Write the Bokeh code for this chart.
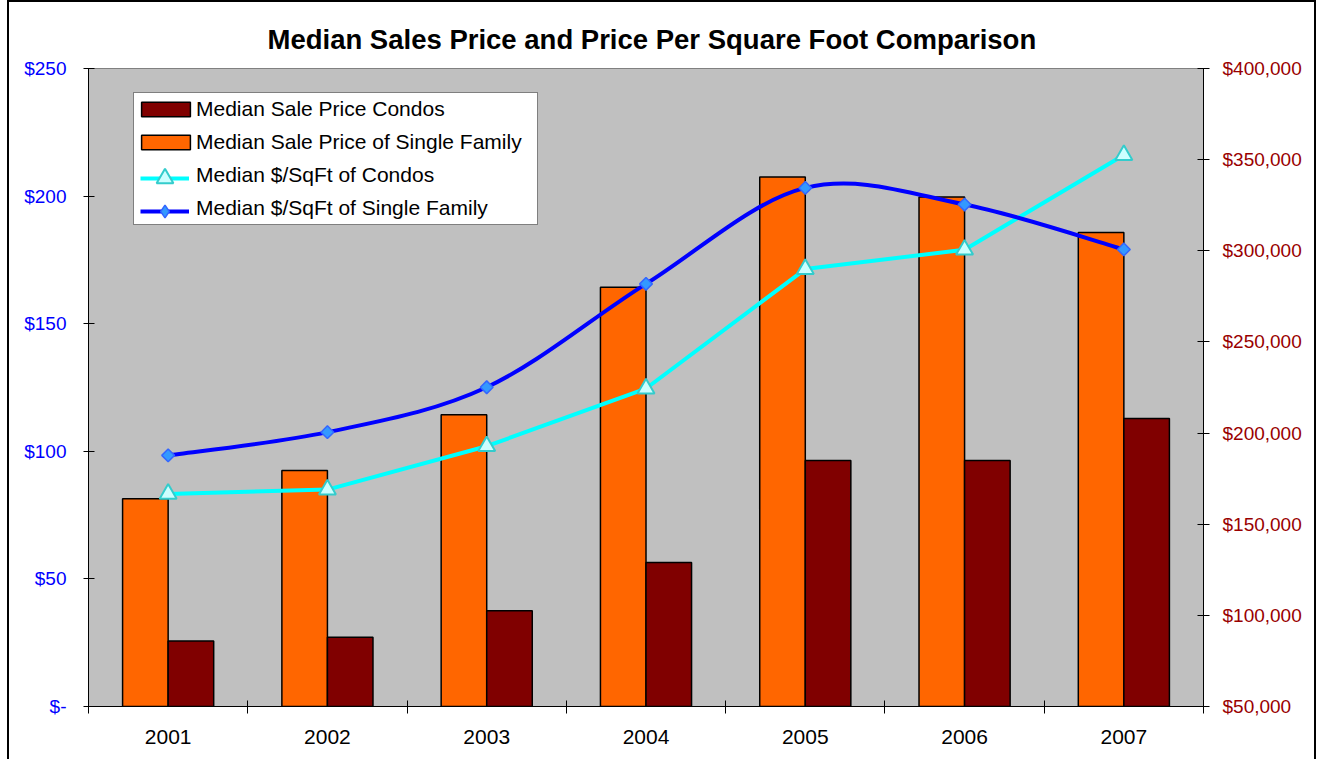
from bokeh.plotting import figure
from bokeh.models import (Range1d, LinearAxis, FixedTicker, NumeralTickFormatter,
                          Legend, LegendItem, ColumnDataSource)
from bokeh.embed import file_html
from bokeh.resources import INLINE
import numpy as np

# ---- data ----
years = ["2001", "2002", "2003", "2004", "2005", "2006", "2007"]
condo_price = [86000, 88000, 102500, 129000, 185000, 185000, 208000]
sf_price = [164000, 179500, 210000, 280000, 340500, 329500, 310000]
condo_sqft = [83.3, 85.0, 102.0, 124.6, 171.4, 179.0, 216.1]
sf_sqft = [98.4, 107.5, 125.1, 165.6, 203.2, 196.7, 179.1]
left_ticks = [0, 50, 100, 150, 200, 250]
right_ticks = [50000, 100000, 150000, 200000, 250000, 300000, 350000, 400000]

FONT = "Liberation Sans"
n = len(years)
centers = [i + 0.5 for i in range(n)]
bar_w = 0.286

p = figure(width=1309, height=759, x_range=Range1d(0, n), y_range=Range1d(0, 250),
           output_backend="svg", toolbar_location=None, margin=(0, 0, 0, 7),
           min_border_left=79, min_border_right=115, min_border_top=66, min_border_bottom=55)
p.styles = {"border-left": "2px solid black", "border-top": "2px solid black",
            "border-right": "2px solid black"}
p.extra_y_ranges = {"price": Range1d(50000, 400000)}
p.background_fill_color = "#C0C0C0"
p.border_fill_color = "white"
p.outline_line_color = "#808080"
p.xgrid.visible = False
p.ygrid.visible = False

# title
p.title.text = "Median Sales Price and Price Per Square Foot Comparison"
p.title.align = "left"
p.title.text_font = FONT
p.title.text_font_size = "27.5px"
p.title.text_font_style = "bold"
p.title.text_color = "black"
p.title.standoff = 28
p.title.offset = 179

# x axis
xa = p.xaxis[0]
xa.ticker = FixedTicker(ticks=centers, minor_ticks=list(range(n + 1)))
xa.major_label_overrides = {c: y for c, y in zip(centers, years)}
xa.major_tick_in = 0
xa.major_tick_out = 0
xa.minor_tick_in = 6
xa.minor_tick_out = 7
xa.minor_tick_line_color = "black"
xa.axis_line_color = "black"
xa.major_label_text_font = FONT
xa.major_label_text_font_size = "21px"
xa.major_label_text_color = "black"
xa.major_label_standoff = 16

# left axis
ya = p.yaxis[0]
ya.ticker = FixedTicker(ticks=left_ticks)
ya.formatter = NumeralTickFormatter(format="$0")
ya.major_label_overrides = {0: "$-"}
ya.major_tick_in = 6
ya.major_tick_out = 5
ya.minor_tick_line_color = None
ya.axis_line_color = "black"
ya.major_tick_line_color = "black"
ya.major_label_text_font = FONT
ya.major_label_text_font_size = "19px"
ya.major_label_text_color = "#0000FF"
ya.major_label_standoff = 17

# right axis
ra = LinearAxis(y_range_name="price", ticker=FixedTicker(ticks=right_ticks),
                formatter=NumeralTickFormatter(format="$0,0"))
ra.major_tick_in = 6
ra.major_tick_out = 6
ra.minor_tick_line_color = None
ra.axis_line_color = "black"
ra.major_label_text_font = FONT
ra.major_label_text_font_size = "19px"
ra.major_label_text_color = "#990000"
ra.major_label_standoff = 13
p.add_layout(ra, "right")

# bars (right axis)
r_sf = p.vbar(x=[c - bar_w / 2 for c in centers], top=sf_price, bottom=50000, width=bar_w,
              y_range_name="price", fill_color="#FF6600", line_color="black", line_width=1.5)
r_condo = p.vbar(x=[c + bar_w / 2 for c in centers], top=condo_price, bottom=50000, width=bar_w,
                 y_range_name="price", fill_color="#800000", line_color="black", line_width=1.5)

# smooth curve (Excel-style cardinal spline) for SF $/sqft
bx0, by0, bx1, by1, cx0, cy0, cx1, cy1 = [], [], [], [], [], [], [], []
for i in range(n - 1):
    i0 = max(i - 1, 0)
    i3 = min(i + 2, n - 1)
    bx0.append(centers[i]); by0.append(sf_sqft[i])
    bx1.append(centers[i + 1]); by1.append(sf_sqft[i + 1])
    cx0.append(centers[i] + (centers[i + 1] - centers[i0]) / 6)
    cy0.append(sf_sqft[i] + (sf_sqft[i + 1] - sf_sqft[i0]) / 6)
    cx1.append(centers[i + 1] - (centers[i3] - centers[i]) / 6)
    cy1.append(sf_sqft[i + 1] - (sf_sqft[i3] - sf_sqft[i]) / 6)
bsrc = ColumnDataSource(dict(x0=bx0, y0=by0, x1=bx1, y1=by1, cx0=cx0, cy0=cy0, cx1=cx1, cy1=cy1))

cm_style = dict(fill_color="#CCFFFF", line_color="#33CCCC", line_width=2)
sm_style = dict(fill_color="#3399FF", line_color="#3366FF", line_width=1.5)

r_cl = p.line(x=centers, y=condo_sqft, line_color="#00FFFF", line_width=4)
r_cm = p.scatter(x=centers, y=condo_sqft, size=17, marker="triangle", **cm_style)
r_sl = p.bezier(x0="x0", y0="y0", x1="x1", y1="y1", cx0="cx0", cy0="cy0", cx1="cx1", cy1="cy1",
                source=bsrc, line_color="#0000FF", line_width=4)
# diamond-shaped key marker (small, sits under the rotated squares below)
r_dkey = p.scatter(x=centers, y=sf_sqft, size=7, marker="diamond", **sm_style)
r_sm = p.scatter(x=centers, y=sf_sqft, size=9, marker="square", angle=np.pi / 4, **sm_style)

# invisible proxy for the text rows of the line entries
r_blank = p.line(x=[], y=[], line_alpha=0)

legend = Legend(items=[
    LegendItem(label="Median Sale Price Condos", renderers=[r_condo]),
    LegendItem(label="Median Sale Price of Single Family", renderers=[r_sf]),
    LegendItem(label="Median $/SqFt of Condos", renderers=[r_blank]),
    LegendItem(label="Median $/SqFt of Single Family", renderers=[r_blank]),
], location=(45, 481))
legend.border_line_color = "black"
legend.border_line_width = 1
legend.background_fill_color = "white"
legend.background_fill_alpha = 1
legend.label_text_font = FONT
legend.label_text_font_size = "21px"
legend.label_text_color = "black"
legend.glyph_width = 61
legend.glyph_height = 18
legend.label_height = 30
legend.label_width = 340
legend.spacing = 3
legend.padding = 1
legend.margin = 0
legend.label_standoff = 0
p.add_layout(legend, "center")


def marker_key(renderers, glyph_h, center_y):
    lg = Legend(items=[LegendItem(label=" ", renderers=renderers)],
                location=(52, 704 - center_y - glyph_h / 2))
    lg.border_line_alpha = 0
    lg.background_fill_alpha = 0
    lg.glyph_width = 49
    lg.glyph_height = glyph_h
    lg.label_height = 1
    lg.label_width = 1
    lg.label_text_font_size = "1px"
    lg.label_standoff = 0
    lg.padding = 0
    lg.margin = 0
    lg.spacing = 0
    return lg


# line + marker keys drawn over the legend rows
p.add_layout(marker_key([r_cl, r_cm], 42, 176), "center")
p.add_layout(marker_key([r_sl, r_dkey], 32, 209), "center")

open("out.html", "w").write(file_html(p, INLINE))
